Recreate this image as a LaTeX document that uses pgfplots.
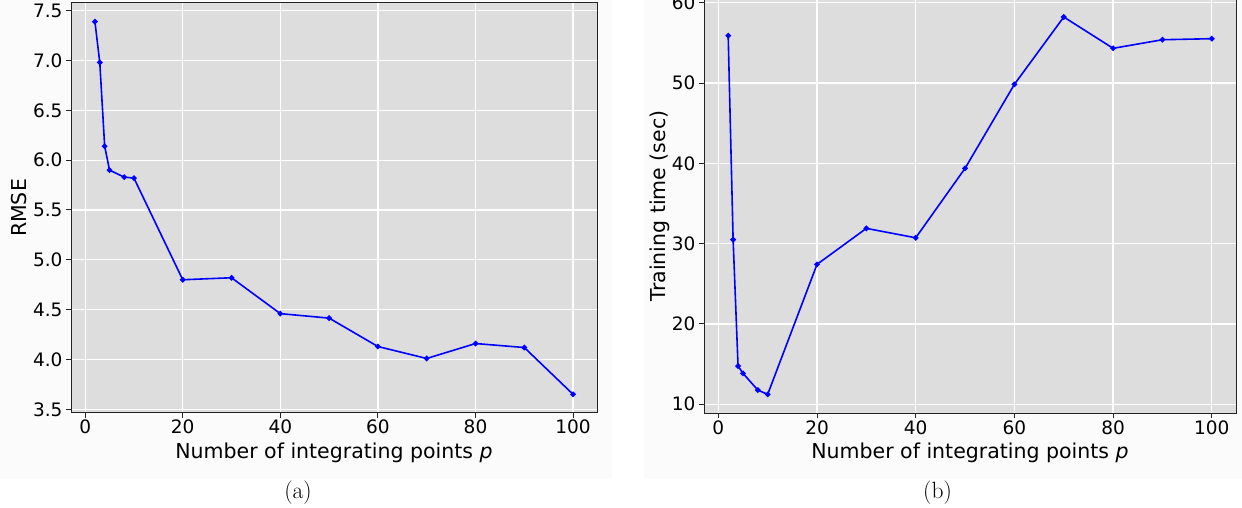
\documentclass[border=0pt]{standalone}
\usepackage{fontspec}
\usepackage{pgfplots}
\pgfplotsset{compat=1.18}
\newfontfamily\dejavu{DejaVu Sans}
\definecolor{panel}{RGB}{221,221,221}
\definecolor{figbg}{RGB}{251,251,251}
\definecolor{spine}{RGB}{35,35,35}

\pgfplotsset{
  mystyle/.style={
    scale only axis,
    xmin=-2.9, xmax=104.9,
    axis background/.style={fill=panel},
    grid=major,
    major grid style={white, line width=1.3pt},
    axis line style={spine, line width=1pt},
    tick style={spine, line width=1pt},
    tick align=outside,
    major tick length=5pt,
    tick pos=left,
    xtick={0,20,40,60,80,100},
    /pgf/number format/assume math mode=true,
    ticklabel style={font=\dejavu\fontsize{18.5}{21}\selectfont},
    xticklabel style={yshift=1.5pt},
    label style={font=\dejavu\fontsize{20.5}{24}\selectfont},
  },
  myline/.style={blue, line width=1.6pt, mark=*, mark size=1.9pt,
    mark options={solid, fill=blue, draw=blue}},
}

\pgfplotstableread{
x y
2 7.39
3 6.98
4 6.14
5 5.90
8 5.83
10 5.82
20 4.80
30 4.82
40 4.46
50 4.415
60 4.13
70 4.01
80 4.16
90 4.12
100 3.65
}\rmse

\pgfplotstableread{
x y
2 55.9
3 30.5
4 14.76
5 13.85
8 11.77
10 11.23
20 27.42
30 31.9
40 30.73
50 39.38
60 49.84
70 58.22
80 54.32
90 55.39
100 55.52
}\ttime

\begin{document}
\begin{tikzpicture}
\path[use as bounding box] (0,0) rectangle (1242pt,508pt);
\fill[figbg] (0,29pt) rectangle (612pt,508pt);
\fill[figbg] (644pt,29pt) rectangle (1242pt,508pt);

\begin{axis}[mystyle,
  at={(71pt,95pt)}, anchor=south west,
  width=526pt, height=410pt,
  ymin=3.463, ymax=7.577,
  ytick={3.5,4.0,4.5,5.0,5.5,6.0,6.5,7.0,7.5},
  yticklabel style={/pgf/number format/fixed, /pgf/number format/fixed zerofill, /pgf/number format/precision=1},
  xlabel={Number of integrating points {\itshape p}},
  xlabel style={at={(axis description cs:0.5,-0.1098)}, anchor=base},
  ylabel={RMSE},
  ylabel style={at={(axis description cs:-0.0842,0.5)}, anchor=base},
]
\addplot[myline] table[x=x, y=y] {\rmse};
\end{axis}

\begin{axis}[mystyle,
  at={(704pt,94.5pt)}, anchor=south west,
  width=532pt, height=415.2pt,
  ymin=8.85, ymax=60.55,
  ytick={10,20,30,40,50,60},
  xlabel={Number of integrating points {\itshape p}},
  xlabel style={at={(axis description cs:0.5,-0.1084)}, anchor=base},
  ylabel={Training time (sec)},
  ylabel style={at={(axis description cs:-0.0733,0.5)}, anchor=base},
]
\addplot[myline] table[x=x, y=y] {\ttime};
\end{axis}

\node[anchor=base, font=\fontsize{23.5}{28}\selectfont] at (298pt,9pt) {(a)};
\node[anchor=base, font=\fontsize{23.5}{28}\selectfont] at (937.5pt,9pt) {(b)};
\end{tikzpicture}
\end{document}
